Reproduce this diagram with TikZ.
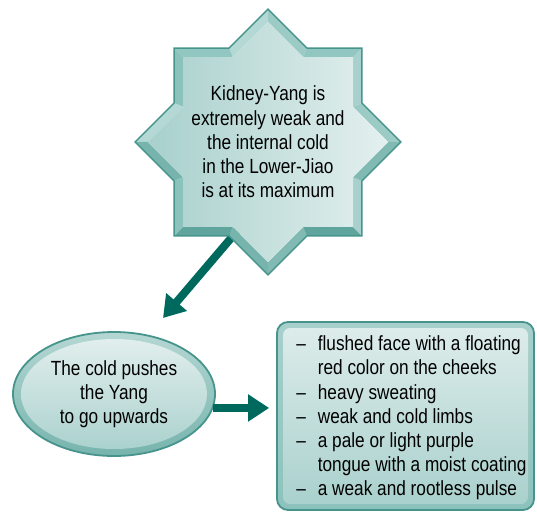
\documentclass[tikz,border=0pt]{standalone}
\usepackage{fontspec}
\setmainfont{Liberation Sans}[FakeStretch=0.84]
\usepackage{tikz}
\usetikzlibrary{positioning, arrows.meta, shapes.geometric, calc}
\definecolor{tcmTeal}{RGB}{0,105,94}
\definecolor{tcmEdge}{RGB}{70,148,140}
\definecolor{faceL}{RGB}{168,208,204}
\definecolor{faceR}{RGB}{228,240,239}
\definecolor{bev0}{RGB}{168,208,204}
\definecolor{bev45}{RGB}{156,202,196}
\definecolor{bev90}{RGB}{146,198,192}
\definecolor{bev135}{RGB}{180,216,212}
\definecolor{bev180}{RGB}{140,194,188}
\definecolor{bev225}{RGB}{118,180,173}
\definecolor{bev270}{RGB}{95,165,157}
\definecolor{bev315}{RGB}{128,186,179}

\begin{document}
\begin{tikzpicture}[x=1pt, y=1pt,
  arr/.style={line width=8pt, tcmTeal, -{Triangle[length=21pt,width=26pt]}},
  txt/.style={font=\fontsize{20.5}{24.2}\selectfont, align=center, inner sep=0pt}]
\useasboundingbox (0,0) rectangle (537,512);

% star outline radii: two squares, half side 94 and 85
\def\Rout{132.9}\def\rout{101.7}\def\Rin{120.2}\def\rin{92.0}
\coordinate (starC) at (268,370);
\coordinate (kfoot) at (255,302);
\coordinate (coldtop) at (163,194);

\draw[arr] (kfoot) -- (coldtop);

% bevel pieces
\foreach \j in {0,...,15} {
  \pgfmathsetmacro\a{90+22.5*\j}
  \pgfmathsetmacro\b{\a+22.5}
  \pgfmathsetmacro\ra{mod(\j,2)==0 ? \Rout : \rout}
  \pgfmathsetmacro\rb{mod(\j,2)==0 ? \rout : \Rout}
  \pgfmathsetmacro\rai{mod(\j,2)==0 ? \Rin : \rin}
  \pgfmathsetmacro\rbi{mod(\j,2)==0 ? \rin : \Rin}
  \pgfmathtruncatemacro\g{floor(\j/4)}
  \pgfmathtruncatemacro\m{mod(\j,4)}
  \pgfmathtruncatemacro\nrm{mod((\m==1 ? 90 : (\m==2 ? 180 : 135)) + 90*\g, 360)}
  \fill[bev\nrm] ($(starC)+(\a:\ra)$) -- ($(starC)+(\b:\rb)$)
    -- ($(starC)+(\b:\rbi)$) -- ($(starC)+(\a:\rai)$) -- cycle;
}
% face
\shade[left color=faceL, right color=faceR] ($(starC)+(90:\Rin)$)
  \foreach \j [evaluate=\j as \rr using {mod(\j,2)==0 ? \Rin : \rin}] in {1,...,15} {
    -- ($(starC)+(90+22.5*\j:\rr)$) } -- cycle;
\draw[tcmEdge, line width=1.5pt, line join=miter] ($(starC)+(90:\Rout)$)
  \foreach \j [evaluate=\j as \rr using {mod(\j,2)==0 ? \Rout : \rout}] in {1,...,15} {
    -- ($(starC)+(90+22.5*\j:\rr)$) } -- cycle;

\node[txt] (kidney) at (starC) {Kidney-Yang is\\extremely weak and\\the internal cold\\in the Lower-Jiao\\is at its maximum};

\node[ellipse, minimum width=202pt, minimum height=124pt, draw=tcmEdge, line width=1.8pt,
  top color=faceL!85!white, bottom color=bev225,
  path picture={\shade[top color=faceR, bottom color=faceL] (path picture bounding box.center) ellipse (93 and 55);},
  txt] (cold) at (114,118) {The cold pushes\\the Yang\\to go upwards};

\node[draw=tcmEdge, line width=1.8pt, rounded corners=11pt, minimum width=257pt, minimum height=188pt,
  top color=faceL, bottom color=bev180,
  path picture={\shade[top color=faceR!90!faceL, bottom color=faceL, rounded corners=7pt]
    ($(path picture bounding box.south west)+(6,6)$) rectangle ($(path picture bounding box.north east)+(-6,-6)$);}]
  (symptoms) at (405.5,96) {};

\node[txt, anchor=west] (symlist) at ($(symptoms.west)+(20,-2.5)$) {%
  \begin{tabular}{@{}l@{\hspace{12pt}}l@{}}
  -- & flushed face with a floating\\
     & red color on the cheeks\\
  -- & heavy sweating\\
  -- & weak and cold limbs\\
  -- & a pale or light purple\\
     & tongue with a moist coating\\
  -- & a weak and rootless pulse
  \end{tabular}};

\draw[arr] (cold.-8) -- ($(cold.-8 -| symptoms.west)+(-7,0)$);
\end{tikzpicture}
\end{document}
